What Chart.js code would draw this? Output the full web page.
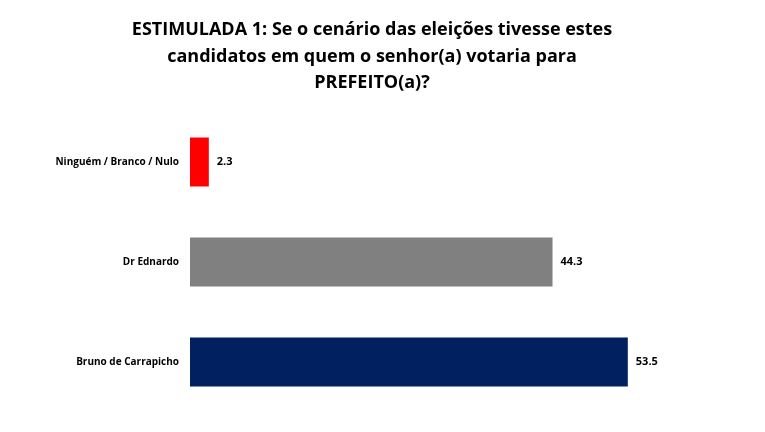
<!DOCTYPE html>
<html>
<head>
<meta charset="utf-8">
<script src="https://cdn.jsdelivr.net/npm/chart.js@4"></script>
<style>
  html, body { margin: 0; padding: 0; background: #fff; }
  #wrap { width: 765px; height: 432px; }
</style>
</head>
<body>
<div id="wrap"><canvas id="grafico"></canvas></div>
<script>
// Dados
const candidatos = ["Ninguém / Branco / Nulo", "Dr Ednardo", "Bruno de Carrapicho"];
const percentuais = [2.3, 44.3, 53.5];
const coresBarras = ["#ff0000", "#808080", "#002060"];
const tituloLinhas = [
  "ESTIMULADA 1: Se o cenário das eleições tivesse estes",
  "candidatos em quem o senhor(a) votaria para",
  "PREFEITO(a)?",
];

// Título centralizado na página (não no gráfico)
const tituloCentral = {
  id: "tituloCentral",
  afterDraw(chart) {
    const ctx = chart.ctx;
    ctx.save();
    ctx.font = "bold 18px 'Open Sans', sans-serif";
    ctx.fillStyle = "#000";
    ctx.textAlign = "center";
    ctx.textBaseline = "middle";
    tituloLinhas.forEach((linha, i) => ctx.fillText(linha, 372, 30 + i * 26.5));
    ctx.restore();
  },
};

// Escreve o valor à direita de cada barra
const rotulosValores = {
  id: "rotulosValores",
  afterDatasetsDraw(chart) {
    const ctx = chart.ctx;
    const meta = chart.getDatasetMeta(0);
    ctx.save();
    ctx.font = "bold 11px 'Open Sans', sans-serif";
    ctx.fillStyle = "#000";
    ctx.textBaseline = "middle";
    meta.data.forEach((barra, i) => {
      ctx.fillText(String(percentuais[i]), barra.x + 8, barra.y);
    });
    ctx.restore();
  },
};

new Chart(document.getElementById("grafico"), {
  type: "bar",
  data: {
    labels: candidatos,
    datasets: [{
      data: percentuais,
      backgroundColor: coresBarras,
      categoryPercentage: 1,
      barPercentage: 0.49,
    }],
  },
  options: {
    indexAxis: "y",
    responsive: true,
    maintainAspectRatio: false,
    animation: false,
    layout: { padding: { left: 5, right: 84, top: 112, bottom: 20 } },
    scales: {
      x: { min: 0, max: 60, display: false },
      y: {
        grid: { display: false },
        border: { display: false },
        ticks: { color: "#000", font: { size: 10, weight: "bold", family: "'Open Sans', sans-serif" } },
        afterFit: (s) => { s.width = 185; },
      },
    },
    plugins: {
      legend: { display: false },
      tooltip: { enabled: false },
      title: { display: false },
    },
  },
  plugins: [rotulosValores, tituloCentral],
});
</script>
</body>
</html>
